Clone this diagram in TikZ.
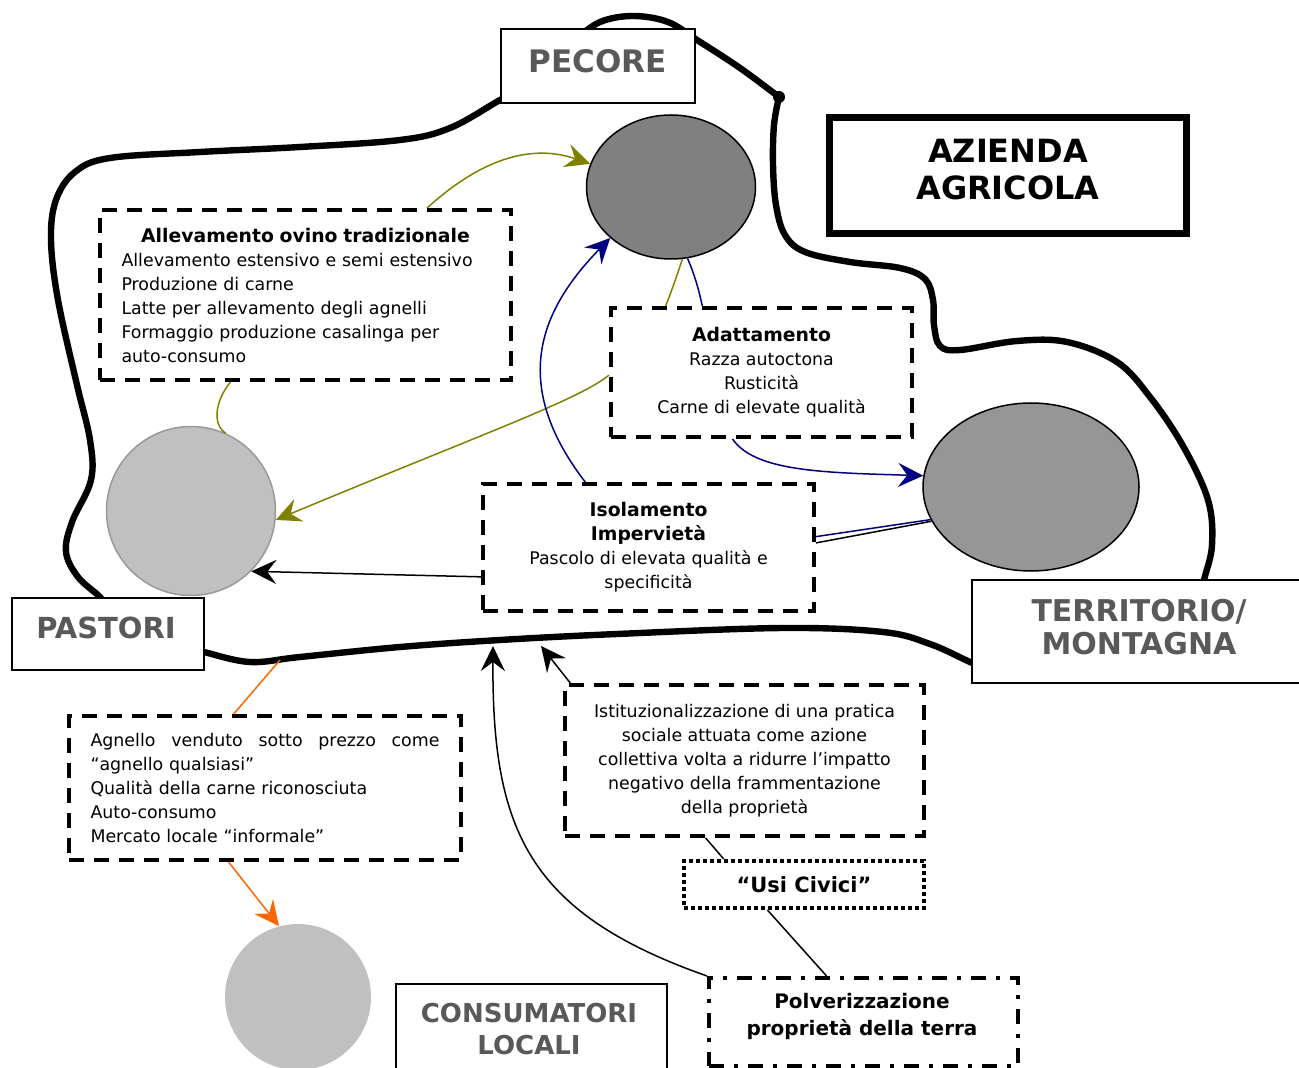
\documentclass[tikz,border=0pt]{standalone}
\usepackage{fontspec}
\setmainfont{DejaVu Sans}
\usetikzlibrary{arrows.meta,calc,shapes.geometric}

\definecolor{olivec}{HTML}{808000}
\definecolor{navyc}{HTML}{000080}
\definecolor{orangec}{HTML}{FF6600}
\definecolor{darkfill}{HTML}{808080}
\definecolor{midfill}{HTML}{969696}
\definecolor{lightfill}{HTML}{C0C0C0}
\definecolor{lightedge}{HTML}{999999}
\definecolor{lblgray}{HTML}{595959}

\newcommand\bodyfont{\fontsize{8.7}{12}\selectfont}
\newcommand\ttlfont{\bfseries\fontsize{9.4}{12.5}\selectfont}

\tikzset{
  boundary/.style={line width=3.2pt, line cap=round, line join=round},
  dbox/.style={draw, line width=2pt, dash pattern=on 7.5pt off 5pt, rectangle,
    inner sep=0pt, font=\bodyfont, align=center},
  dotbox/.style={draw, line width=2pt, dash pattern=on 1.8pt off 1.7pt, rectangle,
    inner sep=0pt, font=\bfseries\fontsize{10.5}{12}\selectfont},
  dashdotbox/.style={draw, line width=2pt, dash pattern=on 7.5pt off 5pt on 2pt off 5pt,
    rectangle, inner sep=0pt},
  labelbox/.style={draw, fill=white, line width=0.75pt, rectangle, inner sep=0pt},
  lbl/.style={text=lblgray, align=center, inner sep=0pt},
  blob/.style={inner sep=0pt},
  link/.style={line width=0.75pt},
  tip/.style={-{Stealth[length=12.5pt, width=12pt, inset=4.5pt]}},
}

\begin{document}
\begin{tikzpicture}[x=0.5pt, y=-0.5pt]
\useasboundingbox (0,0) rectangle (1299,1068);
\clip (0,0) rectangle (1299,1068);

% ---- outline of the farm system ----
\draw[boundary] plot[smooth, tension=0.6] coordinates {
  (520,90) (500,100) (450,128) (400,140) (300,147) (200,152) (110,158)
  (75,172) (56,200) (51,240) (58,300) (77,385) (90,440) (91,480)
  (72,522) (66,552) (78,577) (100,597) (112,612)};
\draw[boundary] plot[smooth, tension=0.6] coordinates {
  (190,648) (204,652) (250,662) (300,657) (400,647) (500,640) (617,634)
  (783,628) (883,632) (930,644) (970,662) (990,670)};
\draw[boundary] plot[smooth, tension=0.6] coordinates {
  (1200,600) (1204,580) (1212,545) (1208,500) (1183,446) (1150,397)
  (1117,362) (1067,342) (1017,341) (960,350) (940,346)
  (934,325) (933,300) (925,279) (900,268) (850,262) (805,252) (785,235)
  (776,205) (773,165) (774,125) (779,97)};
\draw[boundary] plot[smooth, tension=0.6] coordinates {
  (779,97) (740,68) (697,40) (668,22) (633,16) (600,22) (575,40)};
\fill (779,97) circle (3pt);

% ---- label boxes ----
\node[labelbox, minimum width=97pt, minimum height=37pt] (pecbox) at (598,66) {};
\node[lbl, font=\bfseries\fontsize{15.5}{17}\selectfont] (pectxt) at (598,61) {PECORE};

\node[labelbox, minimum width=96pt, minimum height=36pt] (pastbox) at (108,634) {};
\node[lbl, font=\bfseries\fontsize{14.5}{16}\selectfont] (pasttxt) at (106,628) {PASTORI};

\node[labelbox, minimum width=164pt, minimum height=51.5pt] (terrbox) at (1136,631.5) {};
\node[lbl, font=\bfseries\fontsize{15}{16.5}\selectfont] (terrtxt) at (1139,627) {TERRITORIO/\\MONTAGNA};

\node[labelbox, minimum width=135.5pt, minimum height=58pt] (consbox) at (531.5,1042) {};
\node[lbl, font=\bfseries\fontsize{13}{16}\selectfont] (constxt) at (529,1029) {CONSUMATORI\\LOCALI};

\node[draw, line width=3.5pt, rectangle, inner sep=0pt, minimum width=178.5pt,
      minimum height=58pt] (azbox) at (1008,175.5) {};
\node[inner sep=0pt, align=center, font=\bfseries\fontsize{16}{18.5}\selectfont]
      (aztxt) at (1008,170) {AZIENDA\\AGRICOLA};

% ---- actors ----
\node[ellipse, draw, line width=0.75pt, fill=darkfill, blob,
      minimum width=84.5pt, minimum height=72pt] (ovi) at (671,187) {};
\node[ellipse, draw, line width=0.75pt, fill=midfill, blob,
      minimum width=108pt, minimum height=84pt] (terr) at (1031,487) {};
\node[circle, draw=lightedge, line width=0.75pt, fill=lightfill, blob,
      minimum size=84.5pt] (pas) at (191,511) {};
\node[circle, fill=lightfill, blob, minimum size=73pt] (cons) at (298,997) {};

% ---- description boxes ----
\node[dbox, minimum width=205.5pt, minimum height=85pt, text width=184pt, align=left]
  (alle) at (305.5,295)
  {{\centering\ttlfont Allevamento ovino tradizionale\par}
   Allevamento estensivo e semi estensivo\\
   Produzione di carne\\
   Latte per allevamento degli agnelli\\
   Formaggio produzione casalinga per\\
   auto-consumo};

\node[dbox, minimum width=150.5pt, minimum height=64.5pt] (adat) at (761.5,372.5)
  {{\ttlfont Adattamento}\\Razza autoctona\\Rusticità\\Carne di elevate qualità};

\node[dbox, minimum width=165.5pt, minimum height=63.5pt] (iso) at (648.5,547.5)
  {{\ttlfont Isolamento}\\{\ttlfont Impervietà}\\Pascolo di elevata qualità e\\specificità};

\node[dbox, minimum width=196pt, minimum height=72pt, text width=174.5pt, align=left]
  (agn) at (265,788)
  {\hbox to \hsize{Agnello\hfill venduto\hfill sotto\hfill prezzo\hfill come}
   “agnello qualsiasi”\\
   Qualità della carne riconosciuta\\
   Auto-consumo\\
   Mercato locale “informale”};

\node[dbox, minimum width=179.5pt, minimum height=75.5pt] (ist) at (744.5,760.5)
  {Istituzionalizzazione di una pratica\\sociale attuata come azione\\
   collettiva volta a ridurre l’impatto\\negativo della frammentazione\\della proprietà};

\node[dotbox, minimum width=120pt, minimum height=23.5pt] (usi) at (804,884.5) {“Usi Civici”};

\node[dashdotbox, minimum width=154.5pt, minimum height=44pt] (polv) at (863.5,1022) {};
\node[inner sep=0pt, align=center, font=\bfseries\fontsize{10}{13.5}\selectfont]
  (polvtxt) at (862,1016) {Polverizzazione\\proprietà della terra};

% points where arrows meet the outline
\coordinate (hitA) at (493,646);
\coordinate (hitB) at (541,646);
\coordinate (hitC) at (280,660);

% ---- connectors ----
\draw[link, olivec, tip] ($(alle.north west)!0.793!(alle.north east)$)
  .. controls +(44,-40) and +(-67,-23) .. (ovi.164);
\draw[link, olivec] ($(alle.south west)!0.319!(alle.south east)$)
  .. controls +(-16,20) and +(-13,-8) .. (pas.66);
\draw[link, olivec] (ovi.279) .. controls +(-7,21) and +(5,-13)
  .. ($(adat.north west)!0.186!(adat.north east)$);
\draw[link, navyc] (ovi.283) .. controls +(7,16) and +(-4,-18)
  .. ($(adat.north west)!0.306!(adat.north east)$);
\draw[link, olivec, tip] ($(adat.north west)!0.52!(adat.south west)$)
  .. controls +(-31,25) and +(204,-85) .. (pas.354);
\draw[link, navyc, tip] ($(iso.north west)!0.311!(iso.north east)$)
  .. controls +(-76,-99) and +(-70,72) .. (ovi.220);
\draw[link, navyc, tip] ($(adat.south west)!0.405!(adat.south east)$)
  .. controls +(22,32) and +(-103,-3) .. (terr.174);
\draw[link, navyc] ($(iso.north east)!0.417!(iso.south east)$) -- (terr.198);
\draw[link] ($(iso.north east)!0.465!(iso.south east)$) -- (terr.199);
\draw[link, tip] ($(iso.north west)!0.724!(iso.south west)$) -- (pas.315);
\draw[link, tip] (polv.north west) .. controls +(-179,-63) and +(-1,184) .. (hitA);
\draw[link, tip] ($(ist.north west)!0.02!(ist.north east)$) -- (hitB);
\draw[link] ($(ist.south west)!0.393!(ist.south east)$)
  -- ($(usi.north west)!0.171!(usi.north east)$);
\draw[link] ($(usi.south west)!0.35!(usi.south east)$)
  -- ($(polv.north west)!0.382!(polv.north east)$);
\draw[link, orangec] (hitC) -- ($(agn.north west)!0.421!(agn.north east)$);
\draw[link, orangec, tip] ($(agn.south west)!0.408!(agn.south east)$) -- (cons.105);

\end{tikzpicture}
\end{document}
